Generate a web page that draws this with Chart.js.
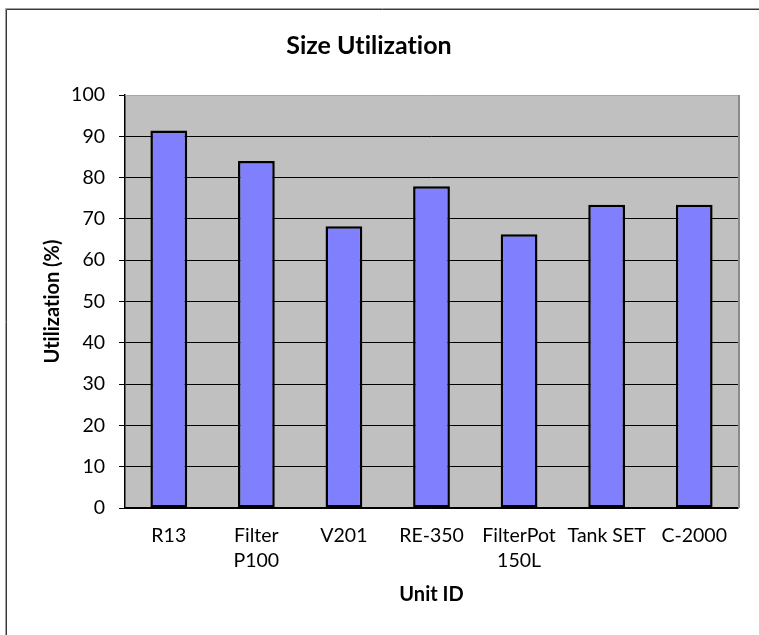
<!DOCTYPE html>
<html>
<head>
<meta charset="utf-8">
<script src="https://cdn.jsdelivr.net/npm/chart.js@4.4.1/dist/chart.umd.min.js"></script>
<style>
  html, body { margin: 0; padding: 0; background: #ffffff; }
  #wrap { width: 759px; height: 635px; }
</style>
</head>
<body>
<div id="wrap"><canvas id="chart" width="759" height="635"></canvas></div>
<script>
// Unit IDs along the category axis (multi-line labels as arrays)
const unitIds = ["R13", ["Filter", "P100"], "V201", "RE-350", ["FilterPot", "150L"], "Tank SET", "C-2000"];
// Size utilization per unit, in percent
const utilization = [91.4, 84.0, 68.2, 77.9, 66.3, 73.4, 73.4];
// Value axis range and step
const yMin = 0;
const yMax = 100;
const yStep = 10;

const FONT = "Lato, 'Liberation Sans', sans-serif";

// Grey plot background, plot border and the outer frame lines
const plotDecor = {
  id: 'plotDecor',
  beforeDraw(chart) {
    const { ctx, chartArea: a } = chart;
    // plain glyphs, no ligatures
    ctx.textRendering = 'optimizeSpeed';
    ctx.save();
    ctx.fillStyle = '#c0c0c0';
    ctx.fillRect(a.left, a.top, a.right - a.left, a.bottom - a.top);
    ctx.restore();
  },
  afterDraw(chart) {
    const { ctx, chartArea: a } = chart;
    ctx.save();
    // plot border (top and right)
    ctx.strokeStyle = '#a6a6a6';
    ctx.lineWidth = 1;
    ctx.beginPath();
    ctx.moveTo(a.left, a.top + 0.5);
    ctx.lineTo(a.right, a.top + 0.5);
    ctx.stroke();
    ctx.strokeStyle = '#8a8a8a';
    ctx.lineWidth = 2;
    ctx.beginPath();
    ctx.moveTo(a.right + 1, a.top);
    ctx.lineTo(a.right + 1, a.bottom);
    ctx.stroke();
    // outer frame (top and left edges of the chart box)
    ctx.strokeStyle = '#3a3a3a';
    ctx.lineWidth = 1;
    ctx.beginPath();
    ctx.moveTo(6.5, 635);
    ctx.lineTo(6.5, 9.5);
    ctx.lineTo(759, 9.5);
    ctx.stroke();
    ctx.strokeStyle = '#a0a0a0';
    ctx.beginPath();
    ctx.moveTo(5.5, 635);
    ctx.lineTo(5.5, 8.5);
    ctx.lineTo(759, 8.5);
    ctx.stroke();
    ctx.restore();
  }
};

new Chart(document.getElementById('chart'), {
  type: 'bar',
  data: {
    labels: unitIds,
    datasets: [{
      data: utilization,
      backgroundColor: '#8080ff',
      borderColor: '#000000',
      borderWidth: 2.5,
      borderSkipped: false,
      barPercentage: 0.42,
      categoryPercentage: 1.0
    }]
  },
  options: {
    responsive: false,
    animation: false,
    devicePixelRatio: 1,
    layout: { padding: { left: 0, right: 21, top: 0, bottom: 0 } },
    plugins: {
      legend: { display: false },
      tooltip: { enabled: false },
      title: {
        display: true,
        text: 'Size Utilization',
        color: '#000000',
        font: { family: FONT, size: 25, weight: 'bold', lineHeight: 1.2 },
        padding: { top: 31, bottom: 34 }
      }
    },
    scales: {
      x: {
        grid: { display: false, drawTicks: false },
        border: { display: true, color: '#000000', width: 1.5 },
        ticks: {
          color: '#000000',
          font: { family: FONT, size: 19.5, lineHeight: 1.28 },
          padding: 15,
          maxRotation: 0,
          autoSkip: false
        },
        title: {
          display: true,
          text: 'Unit ID',
          color: '#000000',
          font: { family: FONT, size: 20, weight: 'bold', lineHeight: 1.2 },
          padding: { top: 0, bottom: 28 }
        },
        afterFit(scale) { scale.height = 127; }
      },
      y: {
        min: yMin,
        max: yMax,
        ticks: {
          stepSize: yStep,
          color: '#000000',
          font: { family: FONT, size: 19.5 },
          padding: 14
        },
        grid: {
          color: (c) => (c.tick && c.tick.value === yMax) ? 'rgba(0,0,0,0)' : '#000000',
          lineWidth: 1,
          drawTicks: true,
          tickLength: 6,
          tickColor: '#000000'
        },
        border: { display: true, color: '#000000', width: 1.5 },
        title: {
          display: true,
          text: 'Utilization (%)',
          color: '#000000',
          font: { family: FONT, size: 20, weight: 'bold', lineHeight: 1.2 },
          padding: { top: 41, bottom: 0 }
        },
        afterFit(scale) { scale.width = 125; }
      }
    }
  },
  plugins: [plotDecor]
});
</script>
</body>
</html>
